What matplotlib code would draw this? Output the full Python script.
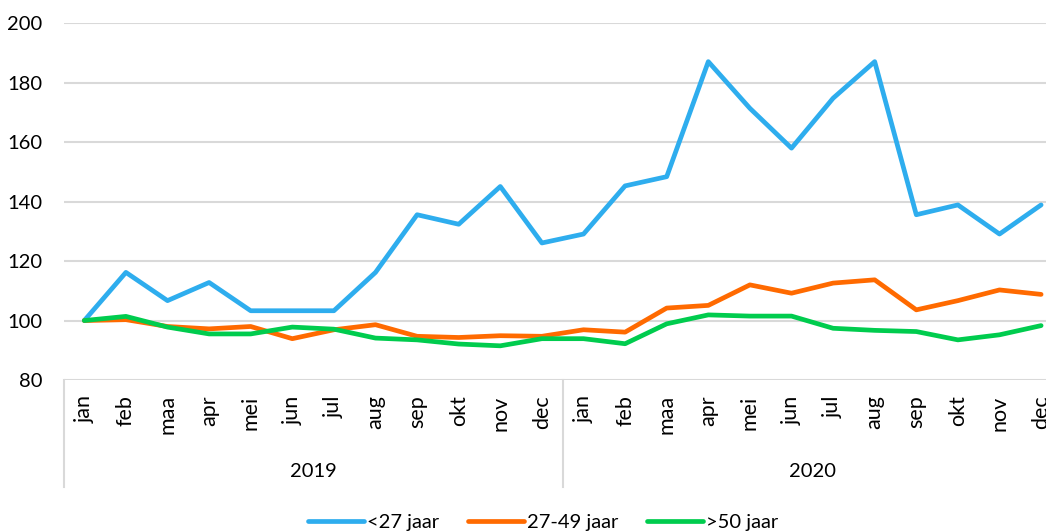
import numpy as np
import matplotlib
matplotlib.use("Agg")
import matplotlib.pyplot as plt
import matplotlib.transforms as mtransforms

months = ["jan", "feb", "maa", "apr", "mei", "jun", "jul", "aug", "sep", "okt", "nov", "dec"]
years = ["2019", "2020"]
under27 = [100, 116.2, 106.7, 112.8, 103.3, 103.3, 103.3, 116.2, 135.6, 132.4, 145.1, 126.1,
           129.1, 145.3, 148.4, 187.1, 171.4, 158.0, 174.8, 187.1, 135.6, 138.9, 129.1, 138.9]
age27_49 = [100, 100.3, 98.0, 97.2, 98.0, 93.9, 96.9, 98.6, 94.7, 94.3, 94.9, 94.7,
            96.9, 96.1, 104.2, 105.1, 112.0, 109.2, 112.6, 113.7, 103.6, 106.7, 110.3, 108.8]
over50 = [100, 101.4, 97.8, 95.5, 95.5, 97.8, 97.1, 94.1, 93.5, 92.1, 91.5, 93.9,
          93.9, 92.2, 98.9, 101.9, 101.5, 101.5, 97.4, 96.7, 96.3, 93.5, 95.2, 98.3]
series_names = ["<27 jaar", "27-49 jaar", ">50 jaar"]
colors = ["#2EADEE", "#FF6A00", "#00CC4E"]

plt.rcParams['font.family'] = ['Lato', 'DejaVu Sans']

W, H = 1046, 531
fig = plt.figure(figsize=(W / 100, H / 100), dpi=100)
left_px, top_px, bottom_px = 63.5, 23.3, 380.0
step = 41.6
n = len(months) * len(years)
ax = fig.add_axes([left_px / W, 1 - bottom_px / H, n * step / W, (bottom_px - top_px) / H])

x = np.arange(n)
for vals, name, c in zip([under27, age27_49, over50], series_names, colors):
    ax.plot(x, vals, color=c, lw=3.4, label=name, solid_joinstyle='round', solid_capstyle='round')

ax.set_xlim(-0.5, n - 0.5)
ax.set_ylim(80, 200)
ax.set_yticks(np.arange(80, 201, 20))
ax.grid(axis='y', color='#D9D9D9', lw=1.5)
ax.set_axisbelow(True)
for s in ax.spines.values():
    s.set_visible(False)
ax.tick_params(axis='y', length=0, pad=15, labelsize=14.5, labelcolor='#000000')
ax.set_xticks(x)
ax.set_xticklabels(months * len(years), rotation=90, fontsize=15.5)
ax.tick_params(axis='x', length=0, pad=11)

trans = mtransforms.blended_transform_factory(ax.transData, ax.transAxes)
axh = bottom_px - top_px
sep_bottom = -(487 - bottom_px) / axh
for k in range(len(years) + 1):
    xp = -0.5 + k * 12
    ax.plot([xp, xp], [0, sep_bottom], transform=trans, color='#D9D9D9', lw=1.5, clip_on=False)
year_y = -(471.7 - bottom_px) / axh
for k, yl in enumerate(years):
    ax.text(5.5 + 12 * k, year_y, yl, transform=trans, ha='center', va='center', fontsize=14.5)

fig.legend(loc='center', bbox_to_anchor=(543 / W, 9 / H), ncol=3, frameon=False, fontsize=14.5,
           handlelength=2.8, handletextpad=0.15, columnspacing=1.4)

fig.savefig("out.png", dpi=100)
